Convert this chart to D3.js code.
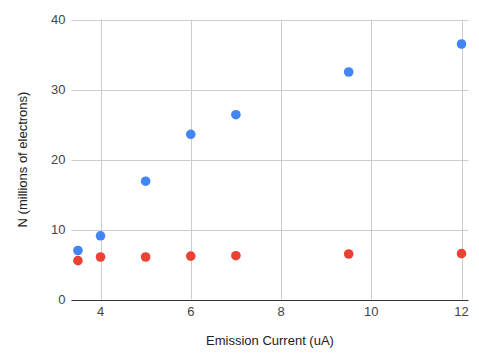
<!DOCTYPE html>
<html><head><meta charset="utf-8">
<script src="https://cdn.jsdelivr.net/npm/d3@7"></script>
<style>body{margin:0;background:#fff}svg{display:block}text{font-family:Arial,"Liberation Sans",sans-serif}</style>
</head><body><svg id="c" width="479" height="361"></svg>
<script>
const currents = [3.5, 4, 5, 6, 7, 9.5, 12];
const seriesBlue = [7.0, 9.1, 16.9, 23.6, 26.4, 32.5, 36.5];
const seriesRed = [5.55, 6.07, 6.07, 6.2, 6.26, 6.5, 6.55];
const xTicks = [4, 6, 8, 10, 12];
const yTicks = [0, 10, 20, 30, 40];
const xTitle = "Emission Current (uA)";
const yTitle = "N (millions of electrons)";

const svg = d3.select("#c");
const L = 71.5, R = 468.5, T = 19.5, B = 299.5;
const x = d3.scaleLinear().domain([3.357, 12.155]).range([L, R]);
const y = d3.scaleLinear().domain([0, 40]).range([B, T]);

// horizontal gridlines
svg.append("g").selectAll("line").data(yTicks.filter(d => d !== 0)).join("line")
  .attr("x1", L).attr("x2", R).attr("y1", d => Math.round(y(d)) + 0.5).attr("y2", d => Math.round(y(d)) + 0.5)
  .attr("stroke", "#cccccc").attr("stroke-width", 1);
// vertical gridlines
svg.append("g").selectAll("line").data(xTicks).join("line")
  .attr("x1", d => Math.round(x(d)) + 0.5).attr("x2", d => Math.round(x(d)) + 0.5).attr("y1", T).attr("y2", B)
  .attr("stroke", "#cccccc").attr("stroke-width", 1);
// baseline
svg.append("line").attr("x1", L).attr("x2", R).attr("y1", Math.round(y(0)) + 0.5).attr("y2", Math.round(y(0)) + 0.5)
  .attr("stroke", "#333333").attr("stroke-width", 1);

// y tick labels
svg.append("g").selectAll("text").data(yTicks).join("text")
  .attr("x", 65.5).attr("y", d => y(d) + 4.5).attr("text-anchor", "end")
  .attr("font-size", 13).attr("fill", "#444444").text(d => d);
// x tick labels
svg.append("g").selectAll("text").data(xTicks).join("text")
  .attr("x", d => x(d)).attr("y", 316).attr("text-anchor", "middle")
  .attr("font-size", 13).attr("fill", "#444444").text(d => d);

// titles
svg.append("text").attr("x", (L + R) / 2).attr("y", 345).attr("text-anchor", "middle")
  .attr("font-size", 13).attr("fill", "#222222").text(xTitle);
svg.append("text").attr("transform", `translate(26.5,${(T + B) / 2}) rotate(-90)`).attr("text-anchor", "middle")
  .attr("font-size", 13).attr("fill", "#222222").text(yTitle);

// points
const drawSeries = (vals, color) => svg.append("g").selectAll("circle").data(currents.map((c, i) => [c, vals[i]])).join("circle")
  .attr("cx", d => x(d[0])).attr("cy", d => y(d[1])).attr("r", 4.8).attr("fill", color);
drawSeries(seriesBlue, "#4285f4");
drawSeries(seriesRed, "#ea4335");
</script></body></html>
